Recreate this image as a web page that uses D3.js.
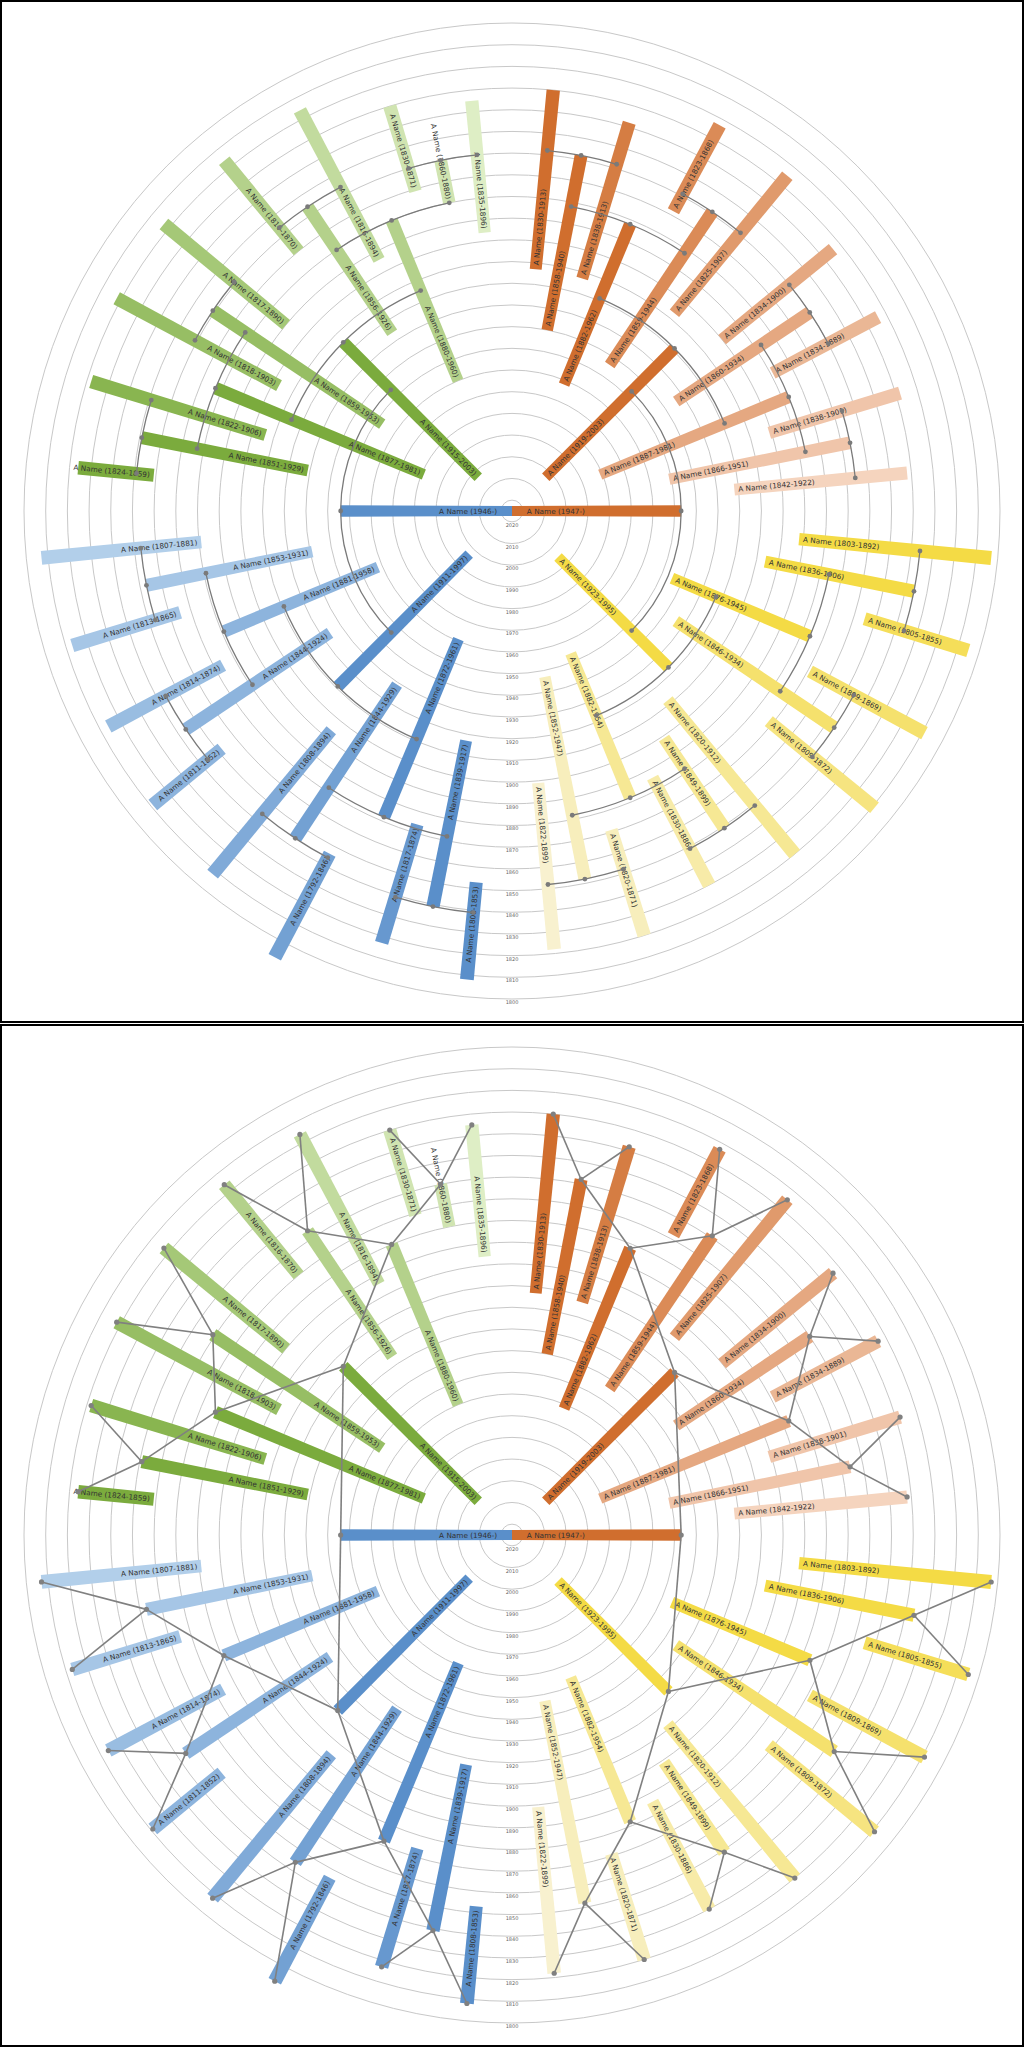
<!DOCTYPE html>
<html>
<head>
<meta charset="utf-8">
<style>
  body { margin: 0; background: #fff; }
  svg { display: block; font-family: "DejaVu Sans", sans-serif; }
</style>
</head>
<body>
<svg id="chart" width="1024" height="2048"></svg>
<script src="https://cdn.jsdelivr.net/npm/d3@7"></script>
<script>
// years shown on the rings
var ringYears = d3.range(1800, 2021, 10);

// two roots in the middle
var roots = [
  ["b1946", 1946, null, 180, null, "blue"],
  ["o1947", 1947, null, 0, null, "orange"]
];

// id, born, died, angle (deg, clockwise from east), child id
var orangeLine = [
  ["o1919", 1919, 2003, -45, "o1947"],
  ["o1882", 1882, 1962, -67.6, "o1919"],
  ["o1887", 1887, 1981, -22.4, "o1919"],
  ["o1858", 1858, 1940, -79, "o1882"],
  ["o1859", 1859, 1944, -56.2, "o1882"],
  ["o1830", 1830, 1913, -84.4, "o1858"],
  ["o1838", 1838, 1913, -73.2, "o1858"],
  ["o1823", 1823, 1868, -61.7, "o1859"],
  ["o1825", 1825, 1907, -50.6, "o1859"],
  ["o1860", 1860, 1934, -33.7, "o1887"],
  ["o1866", 1866, 1951, -11.4, "o1887"],
  ["o1834a", 1834, 1900, -39.2, "o1860"],
  ["o1834b", 1834, 1889, -27.9, "o1860"],
  ["o1838b", 1838, 1901, -16.9, "o1866"],
  ["o1842", 1842, 1922, -5.5, "o1866"]
];

var yellowLine = [
  ["y1923", 1923, 1995, 45, "o1947"],
  ["y1876", 1876, 1945, 22.8, "y1923"],
  ["y1882", 1882, 1954, 67.6, "y1923"],
  ["y1836", 1836, 1906, 11.3, "y1876"],
  ["y1846", 1846, 1934, 33.9, "y1876"],
  ["y1803", 1803, 1892, 5.6, "y1836"],
  ["y1805", 1805, 1855, 17, "y1836"],
  ["y1809a", 1809, 1869, 28.3, "y1846"],
  ["y1809b", 1809, 1872, 39.3, "y1846"],
  ["y1852", 1852, 1947, 78.8, "y1882"],
  ["y1849", 1849, 1899, 56.2, "y1882"],
  ["y1820a", 1820, 1912, 50.5, "y1849"],
  ["y1830", 1830, 1886, 62.2, "y1849"],
  ["y1822", 1822, 1899, 84.5, "y1852"],
  ["y1820b", 1820, 1871, 72.7, "y1852"]
];

var greenLine = [
  ["g1915", 1915, 2003, 225, "b1946"],
  ["g1877", 1877, 1981, 202.5, "g1915"],
  ["g1880", 1880, 1960, 247.5, "g1915"],
  ["g1859", 1859, 1953, 213.8, "g1877"],
  ["g1851", 1851, 1929, 191.2, "g1877"],
  ["g1817", 1817, 1890, 219.5, "g1859"],
  ["g1818", 1818, 1903, 208.3, "g1859"],
  ["g1822", 1822, 1906, 197.1, "g1851"],
  ["g1824", 1824, 1859, 185.7, "g1851"],
  ["g1856", 1856, 1926, 236.1, "g1880"],
  ["g1860", 1860, 1880, 258.5, "g1880"],
  ["g1816a", 1816, 1894, 242.1, "g1856"],
  ["g1816b", 1816, 1870, 230.6, "g1856"],
  ["g1830", 1830, 1871, 253.2, "g1860"],
  ["g1835", 1835, 1896, 264.4, "g1860"]
];

var blueLine = [
  ["b1911", 1911, 1997, 134.8, "b1946"],
  ["b1881", 1881, 1958, 157.3, "b1911"],
  ["b1872", 1872, 1961, 112.7, "b1911"],
  ["b1853", 1853, 1931, 168.5, "b1881"],
  ["b1844a", 1844, 1924, 146.2, "b1881"],
  ["b1807", 1807, 1881, 174.3, "b1853"],
  ["b1813", 1813, 1865, 163, "b1853"],
  ["b1814", 1814, 1874, 151.9, "b1844a"],
  ["b1811", 1811, 1852, 140.7, "b1844a"],
  ["b1844b", 1844, 1929, 123.5, "b1872"],
  ["b1839", 1839, 1917, 101.3, "b1872"],
  ["b1808a", 1808, 1894, 129.5, "b1844b"],
  ["b1792", 1792, 1846, 118, "b1844b"],
  ["b1817", 1817, 1874, 106.8, "b1839"],
  ["b1808b", 1808, 1853, 95.5, "b1839"]
];

var palettes = {
  orange: { edge: -90, dark: "#d06e2e", light: "#fae2d3" },
  yellow: { edge: 0,   dark: "#f4db45", light: "#f8f4e3" },
  green:  { edge: 180, dark: "#7bab3d", light: "#ecf7d8" },
  blue:   { edge: 90,  dark: "#5a8fca", light: "#bfd8ef" }
};

// ---- build nodes
var nodes = [];
roots.forEach(function (d) { nodes.push({ id: d[0], born: d[1], died: d[2], angle: d[3], child: d[4], fam: d[5] }); });
[[orangeLine, "orange"], [yellowLine, "yellow"], [greenLine, "green"], [blueLine, "blue"]].forEach(function (p) {
  p[0].forEach(function (d) { nodes.push({ id: d[0], born: d[1], died: d[2], angle: d[3], child: d[4], fam: p[1] }); });
});
var byId = {};
nodes.forEach(function (n) { byId[n.id] = n; });

// shade: the parent farther from the family's dark edge gets lighter
function edgeDist(n) {
  var d = Math.abs(n.angle - palettes[n.fam].edge) % 360;
  return d > 180 ? 360 - d : d;
}
function shade(n) {
  if (n.t !== undefined) return n.t;
  var c = byId[n.child];
  if (!c || !c.child) { n.t = 0; n.depth = 0; return 0; }
  shade(c);
  n.depth = c.depth + 1;
  var sib = nodes.filter(function (m) { return m.child === n.child && m !== n; })[0];
  var lighter = sib && edgeDist(n) > edgeDist(sib);
  n.t = c.t + (lighter ? Math.pow(0.5, n.depth) : 0);
  return n.t;
}
nodes.forEach(function (n) {
  if (!n.child) { n.t = 0; n.depth = -1; }
});
nodes.forEach(shade);
nodes.forEach(function (n) {
  var p = palettes[n.fam];
  n.color = d3.interpolateRgb(p.dark, p.light)(n.t);
});

// ---- scales
var r = d3.scaleLinear().domain([2025, 1800]).range([0, 488]);
var rad = d3.scaleLinear().domain([0, 180]).range([0, Math.PI]);
function pt(a, rr) { return [rr * Math.cos(rad(a)), rr * Math.sin(rad(a))]; }
function halfW(rr) { return 5 + rr * 0.004; }

var svg = d3.select("#chart");

function panel(offsetY, straight) {
  svg.append("rect").attr("x", 1).attr("y", offsetY + 1).attr("width", 1022).attr("height", 1021)
    .attr("fill", "none").attr("stroke", "#000").attr("stroke-width", 2);

  var g = svg.append("g").attr("transform", "translate(512," + (offsetY + 511) + ")");

  g.selectAll("circle.ring").data(ringYears).enter().append("circle")
    .attr("class", "ring").attr("r", function (d) { return r(d); })
    .attr("fill", "none").attr("stroke", "#c8c8c8").attr("stroke-width", 1);

  g.selectAll("text.tick").data(ringYears).enter().append("text")
    .attr("class", "tick").attr("x", 0).attr("y", function (d) { return r(d) + 5; })
    .attr("text-anchor", "middle").attr("font-size", 5).attr("fill", "#666")
    .text(function (d) { return d; });

  var links = nodes.filter(function (n) { return n.child; });

  var person = g.selectAll("g.person").data(nodes).enter().append("g")
    .attr("class", "person")
    .attr("transform", function (d) { return "rotate(" + d.angle + ")"; });

  person.append("path")
    .attr("fill", function (d) { return d.color; })
    .attr("d", function (d) {
      var ri = r(d.died || 2025), ro = r(d.born);
      return "M" + ri + "," + (-halfW(ri)) + "L" + ro + "," + (-halfW(ro)) +
        "L" + ro + "," + halfW(ro) + "L" + ri + "," + halfW(ri) + "Z";
    });

  person.append("text")
    .attr("font-size", 7.3).attr("fill", "#333").attr("dy", "0.35em")
    .attr("text-anchor", function (d) { return Math.cos(rad(d.angle)) < 0 ? "end" : "start"; })
    .attr("transform", function (d) {
      var x = Math.max(r(d.died || 2025), r(2020)) + 4;
      return Math.cos(rad(d.angle)) < 0 ? "rotate(180) translate(" + (-x) + ",0)" : "translate(" + x + ",0)";
    })
    .text(function (d) { return "A Name (" + d.born + "-" + (d.died || "") + ")"; });

  if (straight) {
    g.selectAll("line.link").data(links).enter().append("line")
      .attr("stroke", "#808080").attr("stroke-width", 1.6)
      .attr("x1", function (d) { var c = byId[d.child]; return pt(c.angle, r(c.born))[0]; })
      .attr("y1", function (d) { var c = byId[d.child]; return pt(c.angle, r(c.born))[1]; })
      .attr("x2", function (d) { return pt(d.angle, r(d.born))[0]; })
      .attr("y2", function (d) { return pt(d.angle, r(d.born))[1]; });
    g.selectAll("circle.dot").data(nodes).enter().append("circle")
      .attr("r", 2.6).attr("fill", "#808080")
      .attr("cx", function (d) { return pt(d.angle, r(d.born))[0]; })
      .attr("cy", function (d) { return pt(d.angle, r(d.born))[1]; });
  } else {
    g.selectAll("path.link").data(links).enter().append("path")
      .attr("fill", "none").attr("stroke", "#7a7a7a").attr("stroke-width", 1.3)
      .attr("d", function (d) {
        var c = byId[d.child], rc = r(c.born);
        var p0 = pt(c.angle, rc), p1 = pt(d.angle, rc);
        var sweep = d.angle > c.angle ? 1 : 0;
        return "M" + p0 + "A" + rc + "," + rc + " 0 0," + sweep + " " + p1;
      });
    g.selectAll("circle.elbow").data(links).enter().append("circle")
      .attr("r", 2.4).attr("fill", "#7a7a7a")
      .attr("cx", function (d) { return pt(d.angle, r(byId[d.child].born))[0]; })
      .attr("cy", function (d) { return pt(d.angle, r(byId[d.child].born))[1]; });
    g.selectAll("circle.tip").data(nodes.filter(function (n) {
      return links.some(function (l) { return l.child === n.id; });
    })).enter().append("circle")
      .attr("r", 2.4).attr("fill", "#7a7a7a")
      .attr("cx", function (d) { return pt(d.angle, r(d.born))[0]; })
      .attr("cy", function (d) { return pt(d.angle, r(d.born))[1]; });
  }
}

panel(0, false);
panel(1024, true);
</script>
</body>
</html>
